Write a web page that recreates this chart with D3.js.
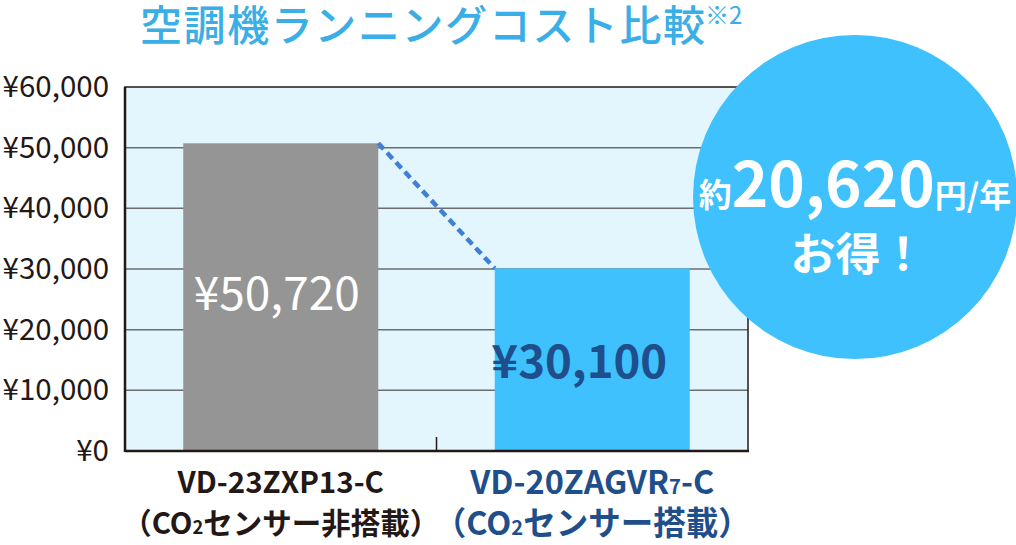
<!DOCTYPE html>
<meta charset="utf-8">
<style>
    body { margin: 0; background: #fff; }
    svg text { font-family: "Noto Sans CJK JP", "Noto Sans", sans-serif; }
    .domain { display: none; }
    .tick line { display: none; }
</style>
<script src="https://d3js.org/d3.v7.min.js"></script>
<div id="svg-holder"></div>
<script>

    // data
    var categories = ["VD-23ZXP13-C", "VD-20ZAGVR7-C"];
    var costs = [50720, 30100];
    var cost_labels = ["¥50,720", "¥30,100"];
    var y_ticks = [0, 10000, 20000, 30000, 40000, 50000, 60000];
    var saving = "20,620";

    var width = 1016, height = 545;
    var plot_left = 125, plot_right = 748, plot_top = 87, plot_bottom = 451;

    var svg = d3.select("#svg-holder").append("svg")
            .attr("width", width).attr("height", height);

    // scales
    var y = d3.scaleLinear().domain([0, 60000]).range([plot_bottom, plot_top]);
    var x = d3.scaleBand().domain(categories)
            .range([plot_left, plot_right])
            .paddingInner(0.374).paddingOuter(0.187);

    // plot background
    svg.append("rect")
        .attr("x", plot_left).attr("y", plot_top)
        .attr("width", plot_right - plot_left).attr("height", plot_bottom - plot_top)
        .attr("fill", "#e3f5fd");

    // grid lines
    svg.append("g").selectAll("line")
        .data(y_ticks.filter(function(d) { return d > 0 && d < 60000; }))
        .join("line")
        .attr("x1", plot_left).attr("x2", plot_right)
        .attr("y1", function(d) { return y(d); }).attr("y2", function(d) { return y(d); })
        .attr("stroke", "#6d6d6d").attr("stroke-width", 1.5);

    // bars
    var bar_colors = ["#959595", "#3ec1fd"];
    svg.append("g").selectAll("rect")
        .data(costs)
        .join("rect")
        .attr("x", function(d, i) { return x(categories[i]); })
        .attr("y", function(d) { return y(d); })
        .attr("width", x.bandwidth())
        .attr("height", function(d) { return y(0) - y(d); })
        .attr("fill", function(d, i) { return bar_colors[i]; });

    // frame
    svg.append("rect")
        .attr("x", plot_left).attr("y", plot_top)
        .attr("width", plot_right - plot_left).attr("height", plot_bottom - plot_top)
        .attr("fill", "none").attr("stroke", "#231815").attr("stroke-width", 1.5);
    svg.append("line")
        .attr("x1", plot_left).attr("x2", plot_left)
        .attr("y1", plot_top).attr("y2", plot_bottom + 1)
        .attr("stroke", "#231815").attr("stroke-width", 2.5);
    svg.append("line")
        .attr("x1", plot_left).attr("x2", plot_right + 1)
        .attr("y1", plot_bottom).attr("y2", plot_bottom)
        .attr("stroke", "#231815").attr("stroke-width", 2.5);
    // middle tick between categories
    var mid = (x(categories[0]) + x.bandwidth() + x(categories[1])) / 2;
    svg.append("line")
        .attr("x1", mid).attr("x2", mid)
        .attr("y1", plot_bottom - 14).attr("y2", plot_bottom)
        .attr("stroke", "#231815").attr("stroke-width", 1.5);

    // y axis labels
    var y_axis = d3.axisLeft(y).tickValues(y_ticks)
            .tickFormat(function(d) { return "¥" + d3.format(",")(d); })
            .tickSize(0).tickPadding(16);
    svg.append("g").attr("transform", "translate(" + plot_left + ",0)")
        .call(y_axis)
        .selectAll("text")
        .attr("font-size", "29.5px").attr("fill", "#231815")
        .attr("font-family", "'Noto Sans CJK JP', sans-serif");

    // dashed connector
    svg.append("line")
        .attr("x1", x(categories[0]) + x.bandwidth()).attr("y1", y(costs[0]))
        .attr("x2", x(categories[1])).attr("y2", y(costs[1]))
        .attr("stroke", "#3f7fd6").attr("stroke-width", 4.5)
        .attr("stroke-dasharray", "8,5");

    // value labels
    svg.append("text")
        .attr("x", x(categories[0]) + x.bandwidth() / 2 - 4).attr("y", 310)
        .attr("text-anchor", "middle").attr("font-size", "46px")
        .attr("fill", "#ffffff").text(cost_labels[0]);
    svg.append("text")
        .attr("x", x(categories[1]) + x.bandwidth() / 2 - 13).attr("y", 378)
        .attr("text-anchor", "middle").attr("font-size", "45.5px").attr("font-weight", "bold")
        .attr("fill", "#1f4f8b").text(cost_labels[1]);

    // category labels
    var cat_colors = ["#231815", "#1f4f8b"];
    var cat_sizes = [29.5, 32.5];
    var line2 = ["センサー非搭載）", "センサー搭載）"];
    categories.forEach(function(c, i) {
        var cx = x(c) + x.bandwidth() / 2;
        var fs = cat_sizes[i];
        var t1 = svg.append("text").attr("x", cx).attr("y", 493 + i)
            .attr("text-anchor", "middle").attr("font-size", fs + "px").attr("font-weight", "bold")
            .attr("fill", cat_colors[i]);
        if (i == 1) {
            t1.append("tspan").text("VD-20ZAGVR");
            t1.append("tspan").attr("font-size", (fs * 0.62) + "px").text("7");
            t1.append("tspan").text("-C");
        } else {
            t1.text(c);
        }
        var t2 = svg.append("text").attr("x", cx).attr("y", 534 + i)
            .attr("text-anchor", "middle").attr("font-size", fs + "px").attr("font-weight", "bold")
            .attr("fill", cat_colors[i]);
        t2.append("tspan").text("（CO");
        t2.append("tspan").attr("font-size", (fs * 0.62) + "px").text("2");
        t2.append("tspan").text(line2[i]);
    });

    // title
    var title = svg.append("text").attr("x", 140).attr("y", 41)
        .attr("font-size", "42px").attr("font-weight", 500).attr("fill", "#3aaee6");
    title.append("tspan").attr("textLength", 565).attr("lengthAdjust", "spacing")
        .text("空調機ランニングコスト比較");
    svg.append("text").attr("x", 705).attr("y", 24)
        .attr("font-size", "24px").attr("fill", "#3aaee6").text("※2");

    // savings bubble
    var cx = 855, cy = 197;
    svg.append("circle").attr("cx", cx).attr("cy", cy).attr("r", 162).attr("fill", "#3ec1fd");
    var s = svg.append("text").attr("x", cx).attr("y", 207)
        .attr("text-anchor", "middle").attr("fill", "#ffffff").attr("font-weight", "bold");
    s.append("tspan").attr("font-size", "33px").text("約");
    s.append("tspan").attr("font-size", "62px").text(saving);
    s.append("tspan").attr("font-size", "32px").text("円/年");
    svg.append("text").attr("x", cx + 3).attr("y", 271)
        .attr("text-anchor", "middle").attr("fill", "#ffffff").attr("font-weight", "bold")
        .attr("font-size", "45px").text("お得！");

</script>
